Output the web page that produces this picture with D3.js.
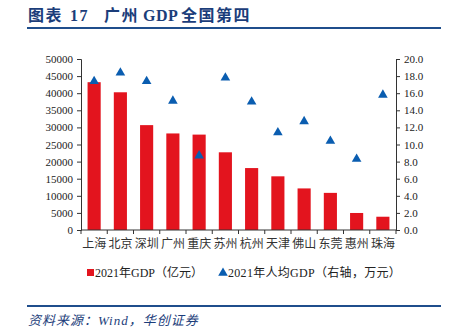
<!DOCTYPE html>
<html><head><meta charset="utf-8">
<script src="https://cdn.jsdelivr.net/npm/d3@7"></script>
<style>body{margin:0;background:#fff}svg{display:block}</style>
</head><body><svg id="c" width="452" height="335"></svg>
<script>
const categories = ["上海","北京","深圳","广州","重庆","苏州","杭州","天津","佛山","东莞","惠州","珠海"];
const gdp = [43214,40269,30664,28231,27894,22718,18109,15695,12156,10855,4977,3881];
const perCapita = [17.4,18.4,17.4,15.1,8.7,17.8,15.0,11.4,12.7,10.4,8.3,15.8];
const leftTicks = [0,5000,10000,15000,20000,25000,30000,35000,40000,45000,50000];
const rightTicks = [0,2,4,6,8,10,12,14,16,18,20];

const svg = d3.select("#c");
const serif = "'Liberation Serif','Times New Roman',serif";
const cjk = "'Liberation Serif','Noto Sans CJK SC',serif";
const navy = "#1b3d7a";
const red = "#e3141e", blue = "#0a5db0";
const L = 81, R = 396, T = 59, B = 230;

// title
const title = svg.append("text").attr("y",21).attr("fill",navy)
  .attr("font-family",cjk).attr("font-weight","bold").attr("font-size",16).attr("letter-spacing",1.5);
title.append("tspan").attr("x",28).text("图表");
title.append("tspan").attr("x",70).text("17");
title.append("tspan").attr("x",104).text("广州");
title.append("tspan").attr("x",143).attr("letter-spacing",0.5).text("GDP");
title.append("tspan").attr("x",181).text("全国第四");
svg.append("line").attr("x1",27).attr("x2",441).attr("y1",28).attr("y2",28).attr("stroke","#1f4e8c").attr("stroke-width",2);
svg.append("line").attr("x1",27).attr("x2",441).attr("y1",306).attr("y2",306).attr("stroke","#1f4e8c").attr("stroke-width",2);

const x = d3.scaleBand().domain(categories).range([L,R]).paddingInner(0.5).paddingOuter(0.25);
const xb = d3.scaleBand().domain(categories).range([L,R]);
const yL = d3.scaleLinear().domain([0,50000]).range([B,T]);
const yR = d3.scaleLinear().domain([0,20]).range([B,T]);

// bars
svg.append("g").selectAll("rect").data(gdp).join("rect")
  .attr("x",(d,i)=>x(categories[i])).attr("width",x.bandwidth())
  .attr("y",d=>yL(d)).attr("height",d=>B-yL(d)).attr("fill",red);

// axes
const axL = svg.append("g").attr("transform",`translate(${L},0)`)
  .call(d3.axisLeft(yL).tickValues(leftTicks).tickFormat(d3.format("d")).tickSize(4).tickPadding(4));
const axR = svg.append("g").attr("transform",`translate(${R},0)`)
  .call(d3.axisRight(yR).tickValues(rightTicks).tickFormat(d3.format(".1f")).tickSize(4).tickPadding(4));
const axX = svg.append("g").attr("transform",`translate(0,${B})`)
  .call(d3.axisBottom(xb).tickSize(0).tickPadding(9));
[axL,axR,axX].forEach(a=>{
  a.selectAll("path").attr("stroke","#333").attr("stroke-width",1);
  a.selectAll("line").attr("stroke","#333");
  a.selectAll("text").attr("fill","#222").attr("font-family",serif).attr("font-size",11);
});
axX.select(".domain").attr("d",`M${L},0H${R}`);
axX.selectAll("text").attr("font-family",cjk).attr("font-size",12).attr("fill","#333");
// x boundary ticks
axX.append("g").selectAll("line").data(d3.range(categories.length+1)).join("line")
  .attr("x1",i=>L+i*xb.step()).attr("x2",i=>L+i*xb.step()).attr("y1",0).attr("y2",4).attr("stroke","#333");

// triangles
const tri = d3.symbol().type(d3.symbolTriangle).size(40);
svg.append("g").selectAll("path").data(perCapita).join("path")
  .attr("d",tri).attr("fill",blue)
  .attr("transform",(d,i)=>`translate(${xb(categories[i])+xb.bandwidth()/2},${yR(d)})`);

// legend
svg.append("rect").attr("x",87).attr("y",269).attr("width",7).attr("height",7).attr("fill",red);
svg.append("text").attr("x",95).attr("y",277).attr("font-family",cjk).attr("font-size",12).attr("fill","#222").text("2021年GDP（亿元）");
svg.append("path").attr("d",tri).attr("fill",blue).attr("transform","translate(223,273)");
svg.append("text").attr("x",228).attr("y",277).attr("font-family",cjk).attr("font-size",12).attr("fill","#222").attr("letter-spacing",0.3).text("2021年人均GDP（右轴，万元）");

// source
svg.append("text").attr("x",28).attr("y",325).attr("font-family",cjk).attr("font-style","italic").attr("font-size",13).attr("letter-spacing",1).attr("fill",navy).text("资料来源：Wind，华创证券");
</script></body></html>
